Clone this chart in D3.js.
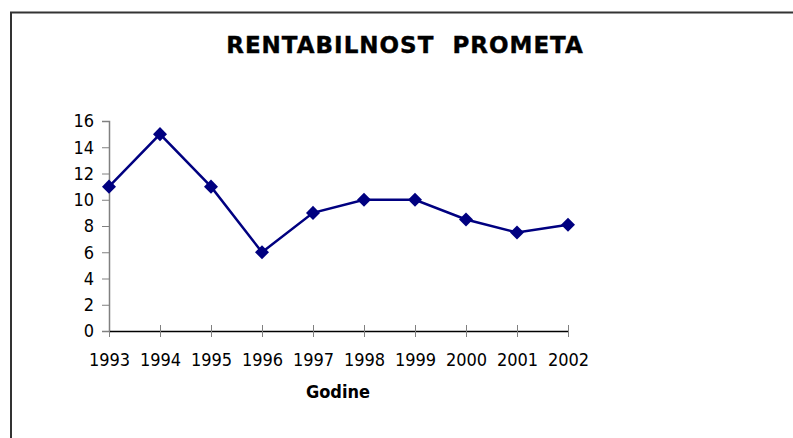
<!DOCTYPE html>
<html>
<head>
<meta charset="utf-8">
<script src="https://cdn.jsdelivr.net/npm/d3@7"></script>
<style>
  body { margin: 0; background: #fff; }
</style>
</head>
<body>
<div id="canvas"></div>
<script>
var years = ['1993', '1994', '1995', '1996', '1997', '1998', '1999', '2000', '2001', '2002']
var values = [11, 15, 11, 6, 9, 10, 10, 8.5, 7.5, 8.1]
var yTicks = [0, 2, 4, 6, 8, 10, 12, 14, 16]
var title = 'RENTABILNOST\u00a0\u00a0PROMETA'
var xTitle = 'Godine'

var width = 793, height = 438
var svg = d3.select('#canvas').append('svg')
  .attr('width', width)
  .attr('height', height)

// chart frame (only top and left edges show in the crop)
svg.append('path')
  .attr('d', 'M11,' + height + 'V12.5H' + width)
  .attr('fill', 'none')
  .attr('stroke', '#333')
  .attr('stroke-width', 2)

var x = d3.scalePoint().domain(years).range([109, 568])
var y = d3.scaleLinear().domain([0, 16]).range([331, 121])

svg.append('text')
  .text(title)
  .attr('x', 405)
  .attr('y', 53)
  .attr('text-anchor', 'middle')
  .attr('font-family', 'DejaVu Sans')
  .attr('font-weight', 'bold')
  .attr('font-size', '23px')
  .attr('letter-spacing', '1px')
  .attr('stroke', '#000')
  .attr('stroke-width', 0.4)
  .attr('fill', '#000')

// y axis
var yAxis = svg.append('g')
  .attr('transform', 'translate(109,0)')
  .call(d3.axisLeft(y).tickValues(yTicks).tickSize(7).tickPadding(8))
yAxis.select('.domain').attr('stroke', '#808080').attr('stroke-width', 1.5)
yAxis.selectAll('.tick line').attr('stroke', '#808080')
yAxis.selectAll('.tick text')
  .attr('font-family', 'DejaVu Sans Condensed')
  .attr('font-size', '18px')
  .attr('fill', '#000')

// x axis
var xAxis = svg.append('g')
  .attr('transform', 'translate(0,331)')
  .call(d3.axisBottom(x).tickSize(6).tickSizeOuter(0).tickPadding(16))
xAxis.select('.domain').attr('stroke', '#000').attr('stroke-width', 1.5)
xAxis.selectAll('.tick line')
  .attr('y1', -6)
  .attr('stroke', '#808080')
xAxis.selectAll('.tick text')
  .attr('font-family', 'DejaVu Sans Condensed')
  .attr('font-size', '18px')
  .attr('fill', '#000')

svg.append('text')
  .text(xTitle)
  .attr('x', 338)
  .attr('y', 398)
  .attr('text-anchor', 'middle')
  .attr('font-family', 'DejaVu Sans Condensed')
  .attr('font-weight', 'bold')
  .attr('font-size', '18px')
  .attr('fill', '#000')

var line = d3.line()
  .x(function (d, i) { return x(years[i]) })
  .y(function (d) { return y(d) })

svg.append('path')
  .datum(values)
  .attr('d', line)
  .attr('fill', 'none')
  .attr('stroke', '#000080')
  .attr('stroke-width', 2.5)

svg.selectAll('.marker')
  .data(values)
  .enter().append('path')
  .attr('class', 'marker')
  .attr('d', d3.symbol().type(d3.symbolDiamond2).size(125))
  .attr('transform', function (d, i) {
    return 'translate(' + x(years[i]) + ',' + y(d) + ')'
  })
  .attr('fill', '#000080')
</script>
</body>
</html>
